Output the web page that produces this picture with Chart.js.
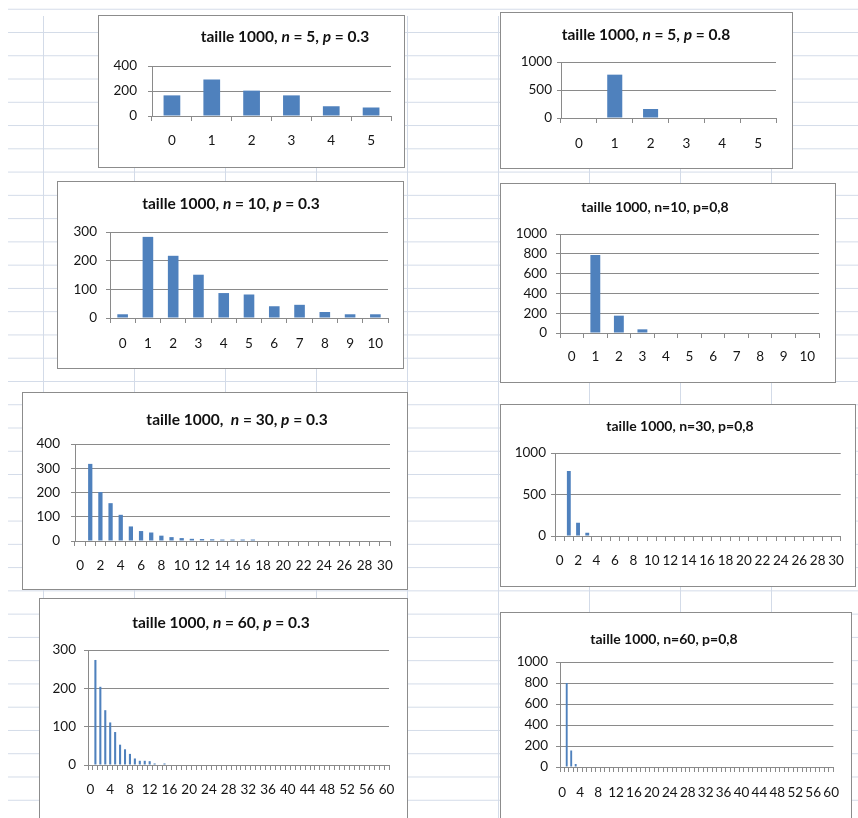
<!DOCTYPE html>
<html>
<head>
<meta charset="utf-8">
<script src="https://cdn.jsdelivr.net/npm/chart.js@4/dist/chart.umd.min.js"></script>
<style>
  html, body { margin: 0; padding: 0; background: #fff; }
  body { width: 858px; height: 818px; position: relative; overflow: hidden; font-family: Lato, "Open Sans", sans-serif; }
  .rows { position: absolute; left: 8px; top: 0; right: 0; bottom: 0;
    background-image: linear-gradient(#d3dbe8 1px, transparent 1px);
    background-size: 100% 23.27px; background-position: 0 32px; }
  .cols { position: absolute; left: 0; top: 16px; right: 0; bottom: 0;
    background-image: linear-gradient(90deg, #d3dbe8 1px, transparent 1px);
    background-size: 91px 100%; background-position: 43px 0; }
  .box { position: absolute; background: #fff; border: 1px solid #8c8c8c; box-sizing: border-box; }
  canvas.c { position: absolute; }
  .ttl { position: absolute; transform: translate(-50%, -50%); white-space: nowrap; font-weight: bold; color: #111; }
</style>
</head>
<body>
<div class="rows"></div>
<div class="cols"></div>
<script>
// Simulated frequencies (sample size 1000) per number of trials
const cat5  = ['0','1','2','3','4','5'];
const cat10 = ['0','1','2','3','4','5','6','7','8','9','10'];
const cat30 = ['0','1','2','3','4','5','6','7','8','9','10','11','12','13','14','15',
               '16','17','18','19','20','21','22','23','24','25','26','27','28','29','30'];
const cat60 = ['0','1','2','3','4','5','6','7','8','9','10','11','12','13','14','15',
               '16','17','18','19','20','21','22','23','24','25','26','27','28','29','30',
               '31','32','33','34','35','36','37','38','39','40','41','42','43','44','45',
               '46','47','48','49','50','51','52','53','54','55','56','57','58','59','60'];

const n5p03  = [165, 292, 203, 165, 78, 68];
const n5p08  = [0, 774, 161, 0, 0, 0];
const n10p03 = [13, 283, 217, 151, 87, 82, 41, 46, 21, 13, 13];
const n10p08 = [0, 788, 175, 37, 0, 0, 0, 0, 0, 0, 0];
const n30p03 = [0, 318, 202, 156, 108, 60, 41, 35, 22, 16, 12, 9, 8, 7, 6, 6,
                6, 6, 0, 0, 0, 0, 0, 0, 0, 0, 0, 0, 0, 0, 0];
const n30p08 = [0, 784, 160, 40, 0, 0, 0, 0, 0, 0, 0, 0, 0, 0, 0, 0,
                0, 0, 0, 0, 0, 0, 0, 0, 0, 0, 0, 0, 0, 0, 0];
const n60p03 = [0, 274, 204, 143, 111, 86, 53, 41, 29, 17, 11, 11, 10, 4, 0, 4,
                0, 0, 0, 0, 0, 0, 0, 0, 0, 0, 0, 0, 0, 0, 0,
                0, 0, 0, 0, 0, 0, 0, 0, 0, 0, 0, 0, 0, 0, 0,
                0, 0, 0, 0, 0, 0, 0, 0, 0, 0, 0, 0, 0, 0, 0];
const n60p08 = [0, 801, 158, 28, 0, 0, 0, 0, 0, 0, 0, 0, 0, 0, 0, 0,
                0, 0, 0, 0, 0, 0, 0, 0, 0, 0, 0, 0, 0, 0, 0,
                0, 0, 0, 0, 0, 0, 0, 0, 0, 0, 0, 0, 0, 0, 0,
                0, 0, 0, 0, 0, 0, 0, 0, 0, 0, 0, 0, 0, 0, 0];

// y-axis ranges
const yMax  = { a: 400, b: 1000, c: 300, d: 1000, e: 400, f: 1000, g: 300, h: 1000 };
const yStep = { a: 200, b: 500,  c: 100, d: 200,  e: 100, f: 500,  g: 100, h: 200 };
// every how many categories an x label is shown
const xEvery = { a: 1, b: 1, c: 1, d: 1, e: 2, f: 2, g: 4, h: 4 };

const titles = {
  a: 'taille 1000, <i>n</i> = 5, <i>p</i> = 0.3',
  b: 'taille 1000, <i>n</i> = 5, <i>p</i> = 0.8',
  c: 'taille 1000, <i>n</i> = 10, <i>p</i> = 0.3',
  d: 'taille 1000, n=10, p=0,8',
  e: 'taille 1000,&nbsp; <i>n</i> = 30, <i>p</i> = 0.3',
  f: 'taille 1000, n=30, p=0,8',
  g: 'taille 1000, <i>n</i> = 60, <i>p</i> = 0.3',
  h: 'taille 1000, n=60, p=0,8'
};

// page layout: frame box, plot area, title centre, label positions
const layout = {
  a: { box: [98, 15, 307, 153],  plot: [152, 66, 391, 116],  tc: [285, 36, 15.5], labY: 141, yGap: 15, data: n5p03,  cats: cat5 },
  b: { box: [500, 12, 293, 157], plot: [561, 62, 776, 118],  tc: [646, 34, 15.5], labY: 144, yGap: 9,  data: n5p08,  cats: cat5 },
  c: { box: [57, 181, 347, 188], plot: [110, 232, 388, 318], tc: [231, 203, 15.5], labY: 344, yGap: 13, data: n10p03, cats: cat10 },
  d: { box: [500, 183, 336, 200],plot: [560, 234, 819, 333], tc: [655, 206, 14],   labY: 357, yGap: 13, data: n10p08, cats: cat10 },
  e: { box: [22, 392, 386, 198], plot: [75, 444, 390, 541],  tc: [237, 419, 15.5], labY: 566, yGap: 15, data: n30p03, cats: cat30 },
  f: { box: [500, 404, 356, 183],plot: [555, 453, 846, 536], tc: [680, 425, 14],   labY: 561, yGap: 9,  data: n30p08, cats: cat30 },
  g: { box: [39, 598, 369, 230], plot: [88, 650, 389, 765],  tc: [221, 622, 15.5], labY: 790, yGap: 12, data: n60p03, cats: cat60 },
  h: { box: [500, 612, 352, 220],plot: [560, 662, 835, 767], tc: [664, 638, 14],   labY: 793, yGap: 12, data: n60p08, cats: cat60 }
};

const AXIS = '#8a8a8a';
const BAR = '#4f81bd';
const TICK_FONT = { family: 'Lato', size: 13.5 };
const TICK_COLOR = '#151515';

Object.keys(layout).forEach(key => {
  const L = layout[key];
  const [bx, by, bw, bh] = L.box;
  const [pl, pt, pr, pb] = L.plot;

  const frame = document.createElement('div');
  frame.className = 'box';
  Object.assign(frame.style, { left: bx + 'px', top: by + 'px', width: bw + 'px', height: bh + 'px' });
  document.body.appendChild(frame);

  const cv = document.createElement('canvas');
  cv.className = 'c';
  cv.width = bw; cv.height = bh;
  Object.assign(cv.style, { left: bx + 'px', top: by + 'px', width: bw + 'px', height: bh + 'px' });
  document.body.appendChild(cv);

  const t = document.createElement('div');
  t.className = 'ttl';
  t.innerHTML = titles[key];
  Object.assign(t.style, { left: L.tc[0] + 'px', top: L.tc[1] + 'px', fontSize: L.tc[2] + 'px' });
  document.body.appendChild(t);

  const step = xEvery[key];
  const xTick = 5, yTick = 4;
  const labPad = Math.max(0, (L.labY - pb) - xTick - 13.5 * 1.2 / 2);

  new Chart(cv, {
    type: 'bar',
    data: {
      labels: L.cats,
      datasets: [{ data: L.data, backgroundColor: BAR, borderWidth: 0,
                   barPercentage: 0.42, categoryPercentage: 1.0 }]
    },
    options: {
      responsive: false,
      animation: false,
      devicePixelRatio: 1,
      layout: { padding: { top: pt - by, right: (bx + bw) - pr, left: 0, bottom: 0 } },
      plugins: { legend: { display: false }, tooltip: { enabled: false }, title: { display: false } },
      scales: {
        x: {
          grid: { offset: true, drawOnChartArea: false, drawTicks: true, tickLength: xTick, color: AXIS },
          border: { display: true, color: AXIS },
          ticks: {
            autoSkip: false, maxRotation: 0, minRotation: 0, padding: labPad,
            font: TICK_FONT, color: TICK_COLOR,
            callback: function (v, i) { return i % step === 0 ? this.getLabelForValue(v) : ''; }
          },
          afterFit: s => { s.height = (by + bh) - pb; }
        },
        y: {
          min: 0, max: yMax[key],
          grid: { color: AXIS, tickLength: yTick, drawTicks: true },
          border: { display: true, color: AXIS },
          ticks: { stepSize: yStep[key], padding: Math.max(0, L.yGap - yTick), font: TICK_FONT, color: TICK_COLOR,
                   callback: v => String(v) },
          afterFit: s => { s.width = pl - bx; }
        }
      }
    }
  });
});
</script>
</body>
</html>
